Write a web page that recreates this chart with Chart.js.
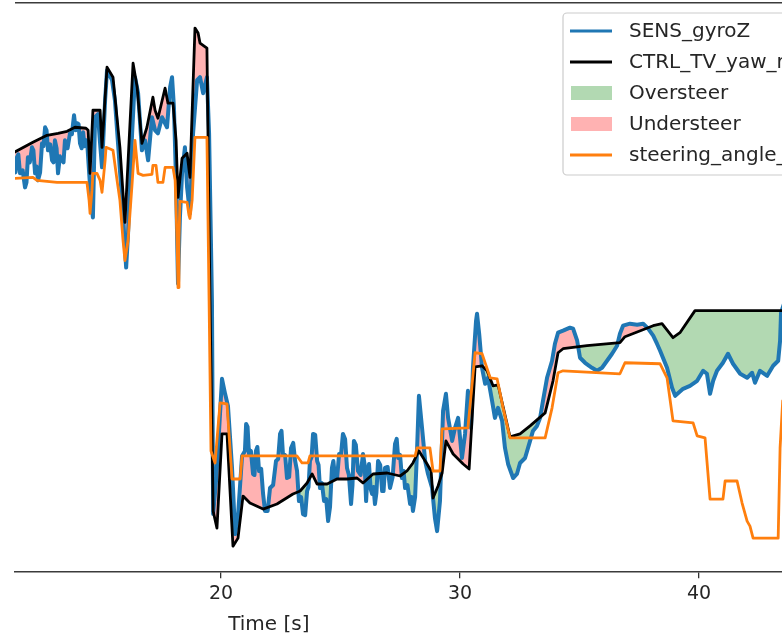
<!DOCTYPE html>
<html>
<head>
<meta charset="utf-8">
<script src="https://cdn.jsdelivr.net/npm/chart.js@4.4.1/dist/chart.umd.min.js"></script>
<style>
    html, body { margin: 0; padding: 0; background: #fff; }
</style>
</head>
<body>
<canvas id="myChart" width="782" height="637"></canvas>
<script>
// [time s, yaw rate]
const gyroZ = [
    [11.34, 0.615], [11.40, 0.59], [11.46, 0.665], [11.52, 0.68], [11.59, 0.585], [11.70, 0.60],
    [11.80, 0.515], [11.86, 0.54], [11.92, 0.665], [12.00, 0.64], [12.09, 0.715], [12.15, 0.70],
    [12.22, 0.585], [12.28, 0.62], [12.34, 0.55], [12.43, 0.59], [12.51, 0.735], [12.57, 0.72],
    [12.64, 0.815], [12.70, 0.80], [12.76, 0.70], [12.85, 0.73], [12.93, 0.65], [12.99, 0.64],
    [13.05, 0.75], [13.12, 0.71], [13.18, 0.585], [13.26, 0.67], [13.35, 0.65], [13.41, 0.64],
    [13.47, 0.75], [13.58, 0.71], [13.68, 0.785], [13.76, 0.78], [13.85, 0.875], [13.92, 0.80],
    [13.98, 0.835], [14.04, 0.83], [14.10, 0.735], [14.17, 0.71], [14.23, 0.79], [14.29, 0.72],
    [14.35, 0.75], [14.40, 0.74], [14.44, 0.665], [14.56, 0.45],
    [14.64, 0.365], [14.73, 0.865], [14.85, 0.88], [14.94, 0.735], [15.02, 0.615], [15.15, 0.95],
    [15.23, 1.10], [15.44, 1.05], [15.56, 0.95], [15.69, 0.735], [15.86, 0.45], [16.03, 0.115],
    [16.11, 0.285], [16.28, 0.785], [16.40, 1.065], [16.53, 0.985], [16.69, 0.70], [16.82, 0.75],
    [16.95, 0.65], [17.11, 0.865], [17.24, 0.80], [17.36, 0.785], [17.53, 0.865], [17.74, 0.815],
    [17.87, 1.015], [17.95, 1.065], [18.03, 0.915], [18.12, 0.535], [18.20, 0.035], [18.28, 0.365],
    [18.37, 0.585], [18.49, 0.715], [18.58, 0.515], [18.70, 0.385], [18.83, 0.785], [19.00, 1.05],
    [19.12, 1.065], [19.25, 0.985], [19.41, 1.065], [19.50, 0.785], [19.62, -0.05], [19.67, -1.115],
    [19.79, -0.95], [19.87, -0.80], [20.04, -0.44], [20.17, -0.515], [20.29, -0.575], [20.46, -0.885],
    [20.59, -1.215], [20.71, -1.125], [20.88, -0.825], [21.00, -0.80], [21.05, -0.665], [21.11, -0.68],
    [21.17, -0.815], [21.25, -0.80], [21.34, -0.915], [21.40, -0.92], [21.46, -0.80], [21.52, -0.78],
    [21.59, -0.90], [21.68, -0.89], [21.76, -1.015], [21.84, -1.10], [21.95, -1.10], [22.05, -0.985],
    [22.18, -0.97], [22.30, -0.85], [22.39, -0.84], [22.47, -0.715], [22.53, -0.70], [22.59, -0.815],
    [22.68, -0.82], [22.76, -0.935], [22.85, -0.93], [22.93, -0.785], [23.02, -0.76], [23.10, -0.85],
    [23.18, -0.90], [23.26, -1.05], [23.35, -1.03], [23.43, -1.115], [23.52, -1.12], [23.60, -1.00],
    [23.66, -0.98], [23.72, -0.85], [23.79, -0.83], [23.85, -0.715], [23.94, -0.72], [24.02, -0.85],
    [24.08, -0.87], [24.14, -0.985], [24.22, -0.96], [24.31, -1.05], [24.40, -1.04], [24.48, -1.15],
    [24.56, -1.08], [24.64, -0.885], [24.70, -0.85], [24.77, -0.935], [24.86, -0.93], [24.94, -0.815],
    [25.02, -0.82], [25.10, -0.715], [25.19, -0.74], [25.27, -0.885], [25.35, -0.92], [25.44, -1.065],
    [25.50, -0.97], [25.56, -0.75], [25.64, -0.77], [25.73, -0.90], [25.84, -0.92], [25.94, -0.815],
    [26.01, -0.87], [26.07, -1.05], [26.13, -0.91], [26.19, -0.865], [26.26, -0.99], [26.32, -1.015],
    [26.38, -0.98], [26.44, -1.065], [26.50, -1.01], [26.57, -0.85], [26.66, -0.87], [26.74, -1.00],
    [26.80, -1.00], [26.86, -0.885], [26.97, -0.88], [27.07, -0.985], [27.18, -0.93], [27.28, -0.765],
    [27.35, -0.74], [27.41, -0.835], [27.49, -0.82], [27.57, -0.935], [27.64, -0.90], [27.70, -0.985],
    [27.80, -0.97], [27.91, -1.065], [27.97, -1.03], [28.03, -1.10], [28.12, -1.03], [28.20, -0.80],
    [28.28, -0.525], [28.41, -0.685], [28.54, -0.85], [28.66, -0.915],
    [28.83, -0.985], [28.95, -1.135], [29.04, -1.20], [29.16, -1.05], [29.29, -0.60], [29.41, -0.515],
    [29.50, -0.635], [29.67, -0.75], [29.79, -0.685], [29.92, -0.635], [30.08, -0.835], [30.21, -0.715],
    [30.33, -0.50], [30.46, -0.685], [30.54, -0.385], [30.67, -0.15], [30.71, -0.115], [30.80, -0.215],
    [30.92, -0.385], [31.05, -0.465], [31.17, -0.435], [31.34, -0.55], [31.46, -0.635], [31.59, -0.585],
    [31.76, -0.65], [31.88, -0.785], [32.01, -0.865], [32.22, -0.935], [32.38, -0.915], [32.51, -0.86],
    [32.72, -0.835], [32.93, -0.75], [33.05, -0.70], [33.22, -0.675], [33.35, -0.635], [33.47, -0.55],
    [33.64, -0.435], [33.85, -0.35], [33.97, -0.265], [34.10, -0.21], [34.31, -0.20], [34.60, -0.185],
    [34.73, -0.19], [34.90, -0.25], [35.02, -0.335], [35.23, -0.36], [35.52, -0.385], [35.73, -0.40],
    [35.94, -0.385], [36.15, -0.35], [36.36, -0.315], [36.57, -0.275], [36.69, -0.215], [36.82, -0.175],
    [37.11, -0.165], [37.41, -0.17], [37.66, -0.165], [37.87, -0.19], [38.08, -0.225], [38.24, -0.265],
    [38.37, -0.30], [38.66, -0.385], [38.87, -0.485], [39.00, -0.525], [39.33, -0.49], [39.62, -0.475],
    [39.92, -0.45], [40.17, -0.40], [40.33, -0.415], [40.46, -0.515], [40.59, -0.45], [40.75, -0.40],
    [41.00, -0.36], [41.21, -0.315], [41.42, -0.365], [41.72, -0.415], [42.01, -0.435], [42.22, -0.41],
    [42.34, -0.46], [42.55, -0.40], [42.85, -0.425], [43.10, -0.375], [43.31, -0.35], [43.39, -0.25],
    [43.43, -0.11], [43.60, -0.05]
];

const ctrlYaw = [
    [11.34, 0.69], [12.13, 0.74], [12.72, 0.775], [13.18, 0.785], [13.56, 0.795], [13.89, 0.815],
    [14.35, 0.81], [14.44, 0.80], [14.52, 0.585], [14.64, 0.90], [14.94, 0.90], [15.02, 0.715],
    [15.23, 1.115], [15.48, 1.065], [15.77, 0.715], [15.98, 0.34], [16.32, 1.135], [16.49, 1.015],
    [16.69, 0.735], [16.90, 0.815], [17.15, 0.965], [17.24, 0.90], [17.36, 0.86], [17.66, 1.01],
    [17.78, 0.935], [17.99, 0.935], [18.12, 0.75], [18.20, 0.465], [18.37, 0.66], [18.58, 0.685],
    [18.70, 0.565], [18.91, 1.31], [19.04, 1.285], [19.12, 1.235], [19.41, 1.21], [19.54, -0.05],
    [19.67, -1.10], [19.83, -1.185], [20.04, -0.715], [20.25, -0.715], [20.50, -1.275], [20.71, -1.235],
    [20.92, -1.025], [21.21, -1.06], [21.76, -1.09], [22.34, -1.065], [23.01, -1.015], [23.31, -1.00],
    [23.60, -0.96], [23.81, -0.915], [24.02, -0.965], [24.44, -0.965], [24.85, -0.94], [25.27, -0.94],
    [25.69, -0.935], [25.94, -0.96], [26.36, -0.915], [26.95, -0.91], [27.49, -0.925], [27.78, -0.90],
    [28.03, -0.86], [28.28, -0.80], [28.62, -0.865], [28.79, -0.90], [28.87, -1.035], [29.08, -0.975],
    [29.25, -0.91], [29.41, -0.75], [29.71, -0.815], [30.13, -0.865], [30.38, -0.89], [30.63, -0.38],
    [30.92, -0.375], [31.13, -0.40], [31.38, -0.475], [31.59, -0.47], [32.09, -0.73], [32.51, -0.715],
    [32.93, -0.675], [33.56, -0.61], [33.89, -0.45], [34.10, -0.31], [34.31, -0.29], [35.31, -0.275],
    [36.69, -0.26], [36.90, -0.23], [38.08, -0.175], [38.45, -0.165], [38.91, -0.235], [39.20, -0.21],
    [39.83, -0.10], [43.60, -0.10]
];

const steeringAngle = [
    [11.34, 0.56], [12.13, 0.565], [12.30, 0.55], [13.14, 0.54], [14.39, 0.54], [14.48, 0.45],
    [14.52, 0.385], [14.60, 0.50], [14.64, 0.585], [14.81, 0.585], [14.94, 0.55], [15.02, 0.49],
    [15.15, 0.65], [15.19, 0.715], [15.48, 0.70], [15.65, 0.55], [15.77, 0.45], [15.90, 0.25],
    [15.98, 0.15], [16.11, 0.25], [16.28, 0.535], [16.40, 0.75], [16.53, 0.585], [16.74, 0.575],
    [17.11, 0.58], [17.15, 0.625], [17.28, 0.625], [17.36, 0.54], [17.57, 0.54], [17.66, 0.615],
    [17.99, 0.615], [18.08, 0.55], [18.16, 0.25], [18.20, 0.015], [18.24, 0.25], [18.28, 0.445],
    [18.58, 0.44], [18.66, 0.375], [18.70, 0.36], [18.79, 0.45], [18.91, 0.765], [19.41, 0.765],
    [19.50, -0.05], [19.58, -0.80], [19.75, -0.86], [19.96, -0.56], [20.25, -0.565], [20.46, -0.94],
    [20.80, -0.94], [20.88, -0.825], [23.18, -0.825], [23.39, -0.86], [23.64, -0.86], [23.72, -0.825],
    [28.12, -0.825], [28.20, -0.785], [28.74, -0.785], [28.87, -0.90], [29.16, -0.90], [29.25, -0.69],
    [30.33, -0.685], [30.63, -0.31], [30.92, -0.315], [31.26, -0.435], [31.55, -0.44], [31.80, -0.585],
    [32.09, -0.735], [33.56, -0.735], [33.85, -0.585], [34.10, -0.41], [34.31, -0.40], [36.69, -0.415],
    [36.90, -0.36], [38.37, -0.365], [38.66, -0.435], [38.91, -0.65], [39.75, -0.66], [39.92, -0.725],
    [40.25, -0.735], [40.46, -1.04], [41.00, -1.04], [41.09, -0.95], [41.59, -0.95], [41.80, -1.06],
    [42.01, -1.15], [42.13, -1.175], [42.26, -1.235], [43.31, -1.235], [43.39, -0.785], [43.50, -0.55]
];

const xTicks = [20, 30, 40];
const xRange = [11.38, 43.47];
const yRange = [-1.405, 1.44];
const signFlip = 19.55; // gyro changes sign here
const seriesNames = ['SENS_gyroZ', 'CTRL_TV_yaw_ref', 'Oversteer', 'Understeer', 'steering_angle_deg'];
const xTitle = 'Time [s]';

const BLUE = '#1f77b4';
const ORANGE = '#ff7f0e';
const OVER = 'rgba(0, 128, 0, 0.3)';
const UNDER = 'rgba(255, 0, 0, 0.3)';

const toPoints = arr => arr.map(([x, y]) => ({ x, y }));
const gyroPts = toPoints(gyroZ);

const lineSet = (label, data, color, width, order) => ({
    label, data, borderColor: color, borderWidth: width,
    pointRadius: 0, fill: false, tension: 0, order,
    borderJoinStyle: 'round', borderCapStyle: 'round'
});
const fillSet = (data, above, below) => ({
    data, borderWidth: 0, borderColor: 'transparent', pointRadius: 0,
    fill: { target: 1, above, below }, order: 3
});

const extras = {
    id: 'extras',
    afterDraw(chart) {
        const { ctx, chartArea: a, scales: { x } } = chart;
        ctx.save();
        // top spine
        ctx.strokeStyle = '#3b3b3b';
        ctx.lineWidth = 1.6;
        ctx.beginPath();
        ctx.moveTo(a.left, a.top + 0.8);
        ctx.lineTo(a.right, a.top + 0.8);
        ctx.stroke();

        ctx.font = '20px "DejaVu Sans"';
        ctx.fillStyle = '#262626';
        ctx.textBaseline = 'middle';
        ctx.textAlign = 'center';
        ctx.fillText(xTitle, x.getPixelForValue(22.0), a.bottom + 53);

        // legend, cut off by the right edge like the source
        const lx = a.left + 548, ly = a.top + 11;
        ctx.fillStyle = 'rgba(255,255,255,0.85)';
        ctx.strokeStyle = '#cccccc';
        ctx.lineWidth = 1.2;
        ctx.beginPath();
        ctx.roundRect(lx, ly, 260, 162, 4);
        ctx.fill();
        ctx.stroke();

        const kinds = [
            ['line', BLUE], ['line', '#000'], ['box', OVER], ['box', UNDER], ['line', ORANGE]
        ];
        ctx.textAlign = 'left';
        kinds.forEach(([kind, color], i) => {
            const cy = ly + 18 + i * 31;
            if (kind === 'line') {
                ctx.strokeStyle = color;
                ctx.lineWidth = 3;
                ctx.beginPath();
                ctx.moveTo(lx + 7, cy);
                ctx.lineTo(lx + 49, cy);
                ctx.stroke();
            } else {
                ctx.fillStyle = color;
                ctx.fillRect(lx + 8, cy - 7, 41, 14);
            }
            ctx.fillStyle = '#262626';
            ctx.fillText(seriesNames[i], lx + 66, cy + 1);
        });
        ctx.restore();
    }
};

const ctx = document.getElementById('myChart').getContext('2d');
new Chart(ctx, {
    type: 'line',
    data: {
        datasets: [
            lineSet(seriesNames[0], gyroPts, BLUE, 4, 2),
            lineSet(seriesNames[1], toPoints(ctrlYaw), '#000', 2.8, 1),
            lineSet(seriesNames[4], toPoints(steeringAngle), ORANGE, 2.8, 0),
            fillSet(gyroPts.filter(p => p.x < signFlip - 0.1), OVER, UNDER),
            fillSet(gyroPts.filter(p => p.x > signFlip), UNDER, OVER)
        ]
    },
    options: {
        responsive: false,
        animation: false,
        layout: { padding: { left: 15, top: 2, right: 0, bottom: 28 } },
        plugins: {
            legend: { display: false },
            tooltip: { enabled: false }
        },
        scales: {
            x: {
                type: 'linear',
                min: xRange[0],
                max: xRange[1],
                afterBuildTicks: axis => { axis.ticks = xTicks.map(value => ({ value })); },
                grid: { drawOnChartArea: false, drawTicks: true, tickLength: 6, color: '#333', lineWidth: 1.3 },
                border: { display: true, color: '#3b3b3b', width: 1.6 },
                ticks: {
                    font: { family: 'DejaVu Sans', size: 19 },
                    color: '#262626',
                    padding: 4,
                    maxRotation: 0
                }
            },
            y: {
                display: false,
                min: yRange[0],
                max: yRange[1]
            }
        }
    },
    plugins: [extras]
});
</script>
</body>
</html>
